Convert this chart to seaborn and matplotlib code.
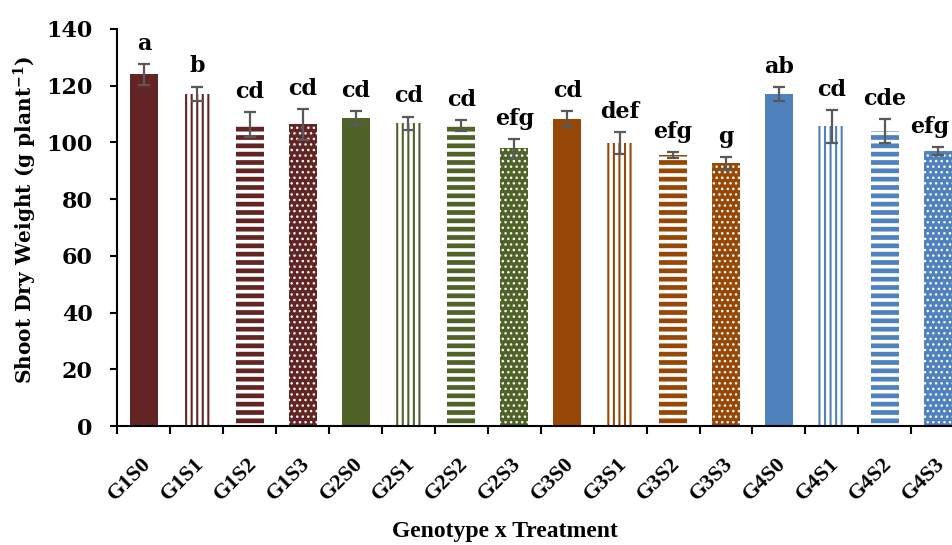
import seaborn as sns
import matplotlib.pyplot as plt
import matplotlib.transforms as mtransforms
import pandas as pd
import numpy as np

# data
labels = ['G1S0', 'G1S1', 'G1S2', 'G1S3', 'G2S0', 'G2S1', 'G2S2', 'G2S3',
          'G3S0', 'G3S1', 'G3S2', 'G3S3', 'G4S0', 'G4S1', 'G4S2', 'G4S3']
means = [124.0, 117.2, 106.4, 106.4, 108.5, 106.7, 106.0, 97.9,
         108.3, 99.7, 95.6, 92.6, 117.0, 105.7, 104.0, 96.9]
errs = [3.7, 2.5, 4.4, 5.5, 2.5, 2.4, 1.9, 3.4,
        2.8, 3.9, 1.1, 2.2, 2.5, 5.8, 4.3, 1.4]
letters = ['a', 'b', 'cd', 'cd', 'cd', 'cd', 'cd', 'efg',
           'cd', 'def', 'efg', 'g', 'ab', 'cd', 'cde', 'efg']
genotype_colors = ['#632523', '#4F6228', '#974706', '#4F81BD']

df = pd.DataFrame({'label': labels, 'value': means})
colors = [genotype_colors[i // 4] for i in range(16)]

sns.set_style('ticks')
plt.rcParams['font.family'] = ['DejaVu Serif']
plt.rcParams['font.weight'] = 'bold'
plt.rcParams['hatch.linewidth'] = 1.5
plt.rcParams['mathtext.fontset'] = 'custom'
plt.rcParams['mathtext.bf'] = 'DejaVu Serif:bold'
plt.rcParams['mathtext.rm'] = 'DejaVu Serif:bold'
plt.rcParams['mathtext.default'] = 'bf'
for k in ['text.color', 'axes.labelcolor', 'xtick.color', 'ytick.color',
          'axes.edgecolor']:
    plt.rcParams[k] = 'black'

fig = plt.figure(figsize=(9.53, 5.45), dpi=100)
ax = fig.add_axes([0.1232, 0.2183, 0.8885, 0.7285])

sns.barplot(data=df, x='label', y='value', hue='label', palette=colors,
            width=0.53, errorbar=None, legend=False, ax=ax, saturation=1)

# patterns per treatment: solid, vertical lines, horizontal bands, dotted
for i, p in enumerate(ax.patches):
    c = colors[i]
    s = i % 4
    p.set_linewidth(0)
    if s == 0:
        p.set_facecolor(c)
        p.set_edgecolor(c)
    elif s == 1:
        p.set_facecolor('white')
        p.set_edgecolor(c)
        p.set_hatch('|||')
        p.set_hatch_linewidth(1.5)
    elif s == 2:
        p.set_facecolor('white')
        p.set_edgecolor(c)
        p.set_hatch('--')
        p.set_hatch_linewidth(3.4)
    else:
        p.set_facecolor(c)
        p.set_edgecolor('white')
        p.set_hatch('...')
        p.set_hatch_linewidth(1.0)

x = np.arange(len(labels))
ax.errorbar(x, means, yerr=errs, fmt='none', ecolor='#595959',
            elinewidth=1.6, capsize=4.3, capthick=1.6)

for xi, m, e, t in zip(x, means, errs, letters):
    xt = xi - 0.15 if xi == len(labels) - 1 else xi
    ax.text(xt, m + e + 5, t, ha='center', va='baseline', fontsize=16,
            fontweight='bold', clip_on=False)

ax.set_ylim(0, 140)
ax.set_yticks(range(0, 141, 20))
ax.set_xlim(-0.5, 15.5)
ax.set_xticks(x)
ax.set_xticks(np.arange(-0.5, 16, 1), minor=True)
ax.tick_params(axis='x', which='major', length=0, pad=25)
ax.tick_params(axis='x', which='minor', length=6, width=1.5, direction='out')
ax.tick_params(axis='y', length=5, width=1.5, direction='out', labelsize=16, pad=13)
ax.set_xticklabels(labels, rotation=45, ha='right', va='center',
                   rotation_mode='anchor', fontsize=16, fontweight='bold',
                   family='Liberation Serif')
shift = mtransforms.ScaledTranslation(4 / 100, 0, fig.dpi_scale_trans)
for lab in ax.get_xticklabels():
    lab.set_transform(lab.get_transform() + shift)
for lab in ax.get_yticklabels():
    lab.set_fontweight('bold')

sns.despine(ax=ax)
ax.spines['left'].set_linewidth(1.5)
ax.spines['bottom'].set_linewidth(1.5)

ax.set_xlabel('')
ax.set_ylabel('Shoot Dry Weight (g plant$^{-1}$)', fontsize=14.5,
              fontweight='bold')
ax.yaxis.set_label_coords(-0.093, 0.52)
fig.text(505 / 953, 1 - 532 / 545, 'Genotype x Treatment', ha='center',
         va='center', fontsize=17, fontweight='bold', family='Liberation Serif')

fig.savefig('out.png', dpi=100)
